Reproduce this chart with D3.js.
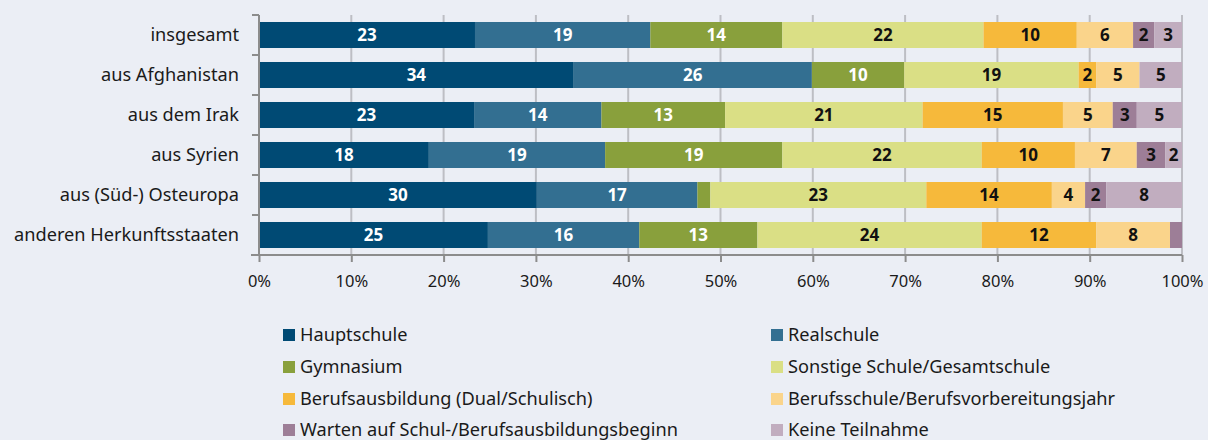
<!DOCTYPE html>
<html>
<head>
<meta charset="utf-8">
<script src="https://cdn.jsdelivr.net/npm/d3@7"></script>
<style>
  html, body { margin: 0; padding: 0; background: #ebeef5; }
  svg { display: block; }
</style>
</head>
<body>
<script>
const categories = ["insgesamt", "aus Afghanistan", "aus dem Irak", "aus Syrien", "aus (Süd-) Osteuropa", "anderen Herkunftsstaaten"];
const seriesNames = ["Hauptschule", "Realschule", "Gymnasium", "Sonstige Schule/Gesamtschule", "Berufsausbildung (Dual/Schulisch)", "Berufsschule/Berufsvorbereitungsjahr", "Warten auf Schul-/Berufsausbildungsbeginn", "Keine Teilnahme"];
const hauptschule      = [23.4, 34.1, 23.3, 18.4, 30.1, 24.8];
const realschule       = [19.0, 25.8, 13.8, 19.1, 17.4, 16.4];
const gymnasium        = [14.3, 10.0, 13.4, 19.2, 1.4, 12.8];
const sonstige         = [21.8, 18.9, 21.4, 21.6, 23.4, 24.3];
const berufsausbildung = [10.1, 1.9, 15.2, 10.1, 13.6, 12.4];
const berufsschule     = [6.1, 4.7, 5.4, 6.7, 3.6, 8.0];
const warten           = [2.3, 0.0, 2.6, 3.1, 2.3, 1.3];
const keine            = [3.0, 4.6, 4.9, 1.8, 8.2, 0.0];
const xTicks = [0, 10, 20, 30, 40, 50, 60, 70, 80, 90, 100];
const tickLabels = xTicks.map(d => d + "%");

const colors = ["#004a74", "#336f91", "#89a03c", "#dadf85", "#f6b93b", "#fad48b", "#9d7e97", "#c1adbf"];
const labelColors = ["#ffffff", "#ffffff", "#ffffff", "#111111", "#111111", "#111111", "#111111", "#111111"];
const allSeries = [hauptschule, realschule, gymnasium, sonstige, berufsausbildung, berufsschule, warten, keine];

const W = 1208, H = 440;
const FONT = "'Noto Sans', 'Open Sans', sans-serif";
const svg = d3.select("body").append("svg").attr("width", W).attr("height", H);
svg.append("rect").attr("width", W).attr("height", H).attr("fill", "#ebeef5");

const x = d3.scaleLinear().domain([0, 100]).range([259, 1182]);
const y = d3.scaleBand().domain(categories).range([15, 255]).paddingInner(0.35).paddingOuter(0.175);

// gridlines
svg.append("g").selectAll("line").data(xTicks.slice(1)).join("line")
  .attr("x1", d => x(d)).attr("x2", d => x(d))
  .attr("y1", 15).attr("y2", 255)
  .attr("stroke", "#bdbec4").attr("stroke-width", 2);

// stacked data
const rows = categories.map((c, i) => {
  const o = { cat: c };
  seriesNames.forEach((s, j) => o[s] = allSeries[j][i]);
  return o;
});
const stacked = d3.stack().keys(seriesNames)(rows);

const gBars = svg.append("g");
stacked.forEach((layer, j) => {
  const g = gBars.append("g");
  g.selectAll("rect").data(layer).join("rect")
    .attr("x", d => x(d[0]))
    .attr("y", d => y(d.data.cat))
    .attr("width", d => Math.max(0, x(d[1]) - x(d[0])))
    .attr("height", y.bandwidth())
    .attr("fill", colors[j]);
  g.selectAll("text").data(layer.filter(d => (d[1] - d[0]) >= 1.5)).join("text")
    .attr("x", d => (x(d[0]) + x(d[1])) / 2)
    .attr("y", d => y(d.data.cat) + y.bandwidth() / 2)
    .attr("dy", "0.36em")
    .attr("text-anchor", "middle")
    .attr("font-family", FONT)
    .attr("font-weight", "bold")
    .attr("font-size", 17)
    .attr("fill", labelColors[j])
    .text(d => Math.round(d[1] - d[0]));
});

// y axis
const yAxis = svg.append("g").attr("transform", "translate(259,0)");
yAxis.append("line").attr("x1", 0).attr("x2", 0).attr("y1", 15).attr("y2", 255)
  .attr("stroke", "#8c8c8c").attr("stroke-width", 2);
const boundaries = d3.range(categories.length + 1).map(i => 15 + i * y.step());
yAxis.selectAll("line.t").data(boundaries).join("line").attr("class", "t")
  .attr("x1", -7).attr("x2", 0).attr("y1", d => d).attr("y2", d => d)
  .attr("stroke", "#8c8c8c").attr("stroke-width", 2);
svg.append("g").selectAll("text").data(categories).join("text")
  .attr("x", 239)
  .attr("y", d => y(d) + y.bandwidth() / 2)
  .attr("dy", "0.35em")
  .attr("text-anchor", "end")
  .attr("font-family", FONT)
  .attr("font-size", 18.2)
  .attr("fill", "#1a1a1a")
  .text(d => d);

// x axis
const xAxis = d3.axisBottom(x).tickValues(xTicks).tickFormat((d, i) => tickLabels[i]).tickSize(7).tickPadding(13);
const gx = svg.append("g").attr("transform", "translate(0,255)").call(xAxis);
gx.select(".domain").attr("stroke", "#8c8c8c").attr("stroke-width", 2).attr("d", "M" + (x(0) - 8) + ",0H" + x(100));
gx.selectAll(".tick line").attr("stroke", "#8c8c8c").attr("stroke-width", 2);
gx.selectAll(".tick text").attr("font-family", FONT).attr("font-size", 16.5).attr("fill", "#1a1a1a");

// legend
const legX = [283, 771];
const legY = [335, 367, 399, 430];
const leg = svg.append("g");
seriesNames.forEach((s, j) => {
  const cx = legX[j % 2], cy = legY[Math.floor(j / 2)];
  leg.append("rect").attr("x", cx).attr("y", cy - 6).attr("width", 12).attr("height", 12).attr("fill", colors[j]);
  leg.append("text").attr("x", cx + 17).attr("y", cy).attr("dy", "0.35em")
    .attr("font-family", FONT).attr("font-size", 18.2).attr("fill", "#1a1a1a").text(s);
});
</script>
</body>
</html>
